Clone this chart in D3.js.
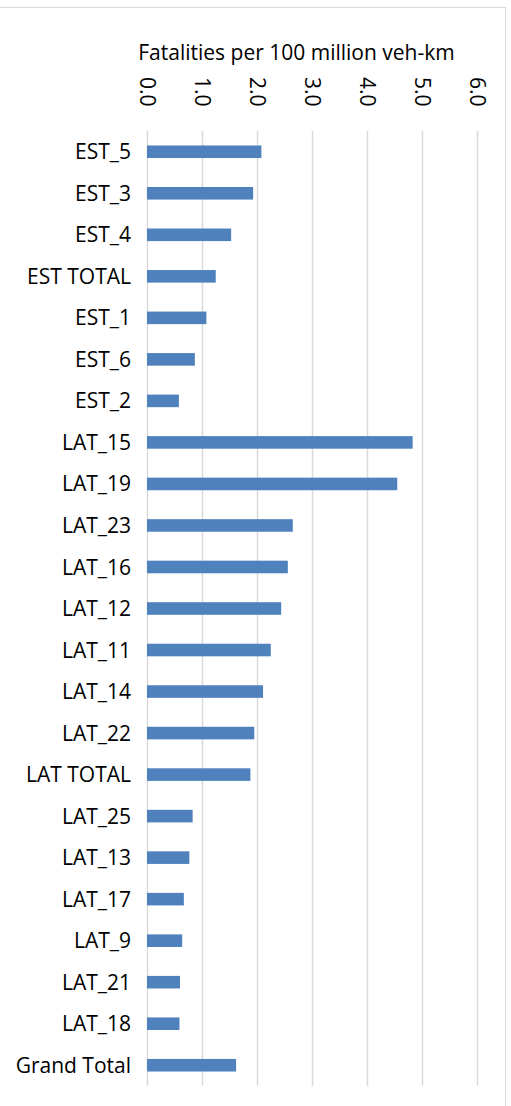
<!DOCTYPE html>
<html>
<head>
<meta charset="utf-8">
<script src="https://cdn.jsdelivr.net/npm/d3@7"></script>
<style>
  body { margin: 0; background: #fff; }
  text { font-family: "Open Sans", sans-serif; }
</style>
</head>
<body>
<div id="chart"></div>
<script>
const categories = ["EST_5", "EST_3", "EST_4", "EST TOTAL", "EST_1", "EST_6", "EST_2",
  "LAT_15", "LAT_19", "LAT_23", "LAT_16", "LAT_12", "LAT_11", "LAT_14", "LAT_22",
  "LAT TOTAL", "LAT_25", "LAT_13", "LAT_17", "LAT_9", "LAT_21", "LAT_18", "Grand Total"];
const values = [2.08, 1.93, 1.53, 1.25, 1.08, 0.87, 0.58,
  4.83, 4.55, 2.65, 2.56, 2.44, 2.25, 2.11, 1.95,
  1.88, 0.83, 0.77, 0.67, 0.64, 0.60, 0.59, 1.62];
const tickValues = [0, 1, 2, 3, 4, 5, 6];
const axisTitle = "Fatalities per 100 million veh-km";

const data = categories.map((c, i) => ({ name: c, value: values[i] }));

const W = 511, H = 1106;
const plot = { left: 147, right: 477, top: 131, bottom: 1086 };

const svg = d3.select("#chart").append("svg")
  .attr("width", W)
  .attr("height", H);

// chart frame (left edge is off the picture)
svg.append("rect")
  .attr("x", -2).attr("y", 7.5)
  .attr("width", 507.5).attr("height", H + 10)
  .attr("fill", "none")
  .attr("stroke", "#d9d9d9")
  .attr("stroke-width", 1);

const x = d3.scaleLinear().domain([0, 6]).range([plot.left, plot.right]);
const y = d3.scaleBand()
  .domain(categories)
  .range([plot.top, plot.bottom])
  .paddingInner(0.697)
  .paddingOuter(0.3485);

// top axis with gridlines
const xAxis = svg.append("g")
  .attr("transform", `translate(0,${plot.top})`)
  .call(d3.axisTop(x)
    .tickValues(tickValues)
    .tickSize(-(plot.bottom - plot.top))
    .tickFormat(d3.format(".1f")));

xAxis.select(".domain").remove();
xAxis.selectAll(".tick line")
  .attr("stroke", "#d9d9d9")
  .attr("stroke-width", 1.5);
xAxis.selectAll(".tick text")
  .attr("x", 0).attr("y", 0)
  .attr("dy", "0.35em")
  .attr("transform", "translate(0,-54) rotate(90)")
  .style("text-anchor", "start")
  .style("font-family", "'Open Sans', sans-serif")
  .style("font-size", "21px")
  .attr("fill", "#000");

// axis title
svg.append("text")
  .attr("x", 296.5)
  .attr("y", 60)
  .attr("text-anchor", "middle")
  .style("font-size", "21px")
  .attr("fill", "#000")
  .text(axisTitle);

// bars
svg.append("g")
  .selectAll("rect")
  .data(data)
  .join("rect")
  .attr("x", x(0))
  .attr("y", d => y(d.name))
  .attr("width", d => x(d.value) - x(0))
  .attr("height", y.bandwidth())
  .attr("fill", "#4f81bd");

// category labels
svg.append("g")
  .selectAll("text")
  .data(data)
  .join("text")
  .attr("x", 131)
  .attr("y", d => y(d.name) + y.bandwidth() / 2)
  .attr("dy", "0.36em")
  .attr("text-anchor", "end")
  .style("font-size", "21px")
  .attr("fill", "#000")
  .text(d => d.name);
</script>
</body>
</html>
